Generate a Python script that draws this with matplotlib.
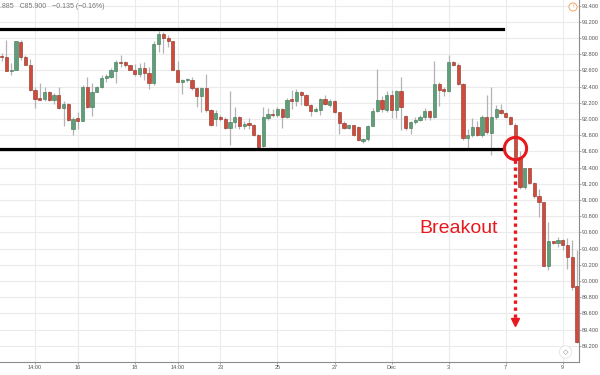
import numpy as np
import matplotlib
matplotlib.use('Agg')
import matplotlib.pyplot as plt

plt.rcParams['font.family'] = ['Liberation Sans', 'DejaVu Sans']

# OHLC values, one entry per bar (left to right)
opens = [92.78, 92.76, 92.59, 92.61, 92.95, 92.76, 92.66, 92.36, 92.26, 92.24,
         92.33, 92.23, 92.29, 92.13, 92.19, 91.88, 92.01, 91.98, 92.39, 92.15,
         92.33, 92.39, 92.50, 92.52, 92.59, 92.70, 92.70, 92.66,
         92.61, 92.55, 92.63, 92.57, 92.44, 92.93, 93.05, 93.00, 92.96, 92.61,
         92.46, 92.48, 92.48, 92.38, 92.28, 92.38, 92.11, 92.00, 92.02, 92.00,
         91.89, 91.96, 92.02, 91.91, 91.95, 91.93, 91.80,
         91.66, 92.01, 92.06, 92.05, 92.12, 92.02, 92.24, 92.22, 92.33, 92.30,
         92.17, 92.10, 92.11, 92.24, 92.17, 92.22, 92.08, 91.95, 91.89, 91.92,
         91.90, 91.73, 91.75, 91.91, 92.10, 92.23, 92.11,
         92.29, 92.11, 92.35, 92.04, 91.89, 91.96, 91.99, 92.02, 92.10, 92.02,
         92.43, 92.37, 92.34, 92.70, 92.67, 92.43, 91.77, 91.80, 91.90, 91.80,
         92.03, 91.83, 92.02, 92.11, 92.07, 92.02,
         91.925, 91.53, 91.16, 91.39, 91.21, 91.05, 90.97, 90.18, 90.49, 90.47,
         90.51, 90.44, 90.30, 89.94]
highs = [92.82, 92.98, 92.69, 92.96, 92.98, 92.79, 92.74, 92.40, 92.44, 92.39,
         92.34, 92.32, 92.39, 92.22, 92.20, 92.02, 92.09, 92.42, 92.52, 92.44,
         92.41, 92.54, 92.56, 92.63, 92.73, 92.79, 92.72, 92.67,
         92.68, 92.69, 92.70, 92.64, 92.96, 93.08, 93.07, 93.03, 92.96, 92.71,
         92.49, 92.50, 92.52, 92.40, 92.40, 92.56, 92.12, 92.11, 92.05, 92.03,
         92.34, 92.15, 92.04, 91.97, 92.01, 91.94, 91.82,
         92.15, 92.13, 92.12, 92.15, 92.13, 92.26, 92.36, 92.37, 92.35, 92.31,
         92.19, 92.15, 92.26, 92.30, 92.24, 92.23, 92.09, 91.97, 91.94, 91.93,
         91.91, 91.77, 91.93, 92.13, 92.62, 92.28, 92.34,
         92.36, 92.36, 92.52, 92.05, 91.98, 92.02, 92.05, 92.13, 92.11, 92.71,
         92.46, 92.39, 92.79, 92.72, 92.69, 92.44, 91.87, 92.01, 91.97, 92.05,
         92.30, 92.40, 92.17, 92.19, 92.09, 92.04,
         91.945, 91.60, 91.40, 91.40, 91.22, 91.13, 90.98, 90.73, 90.49, 90.54,
         90.52, 90.53, 90.50, 90.38]
lows = [92.71, 92.59, 92.54, 92.60, 92.73, 92.66, 92.35, 92.13, 92.23, 92.22,
        92.22, 92.19, 92.12, 91.91, 91.97, 91.80, 91.88, 91.98, 92.14, 92.04,
        92.33, 92.38, 92.46, 92.51, 92.44, 92.64, 92.64, 92.61,
        92.53, 92.52, 92.48, 92.37, 92.42, 92.83, 92.82, 92.89, 92.61, 92.45,
        92.31, 92.46, 92.36, 92.15, 92.08, 92.09, 91.91, 91.91, 91.97, 91.87,
        91.68, 91.89, 91.87, 91.88, 91.87, 91.79, 91.64,
        91.65, 91.99, 92.03, 92.02, 91.89, 92.01, 92.12, 92.16, 92.17, 92.16,
        92.04, 92.08, 92.05, 92.17, 92.15, 92.07, 91.82, 91.88, 91.87, 91.79,
        91.73, 91.70, 91.73, 91.91, 92.09, 92.09, 92.09,
        92.01, 92.01, 91.86, 91.86, 91.81, 91.94, 91.98, 91.99, 91.99, 92.01,
        92.16, 92.28, 92.33, 92.65, 92.42, 91.74, 91.64, 91.78, 91.79, 91.78,
        91.82, 91.55, 92.00, 92.06, 92.01, 91.93,
        91.51, 91.13, 91.13, 91.20, 91.02, 90.79, 90.18, 90.13, 90.46, 90.42,
        90.38, 90.15, 89.89, 89.24]
closes = [92.76, 92.59, 92.61, 92.96, 92.76, 92.66, 92.36, 92.25, 92.23, 92.33,
          92.23, 92.29, 92.13, 92.19, 91.99, 92.00, 91.98, 92.39, 92.15, 92.33,
          92.39, 92.50, 92.53, 92.60, 92.70, 92.69, 92.66, 92.61,
          92.55, 92.63, 92.57, 92.44, 92.93, 93.05, 93.00, 92.96, 92.61, 92.46,
          92.48, 92.49, 92.38, 92.28, 92.38, 92.11, 91.92, 92.07, 92.00, 91.89,
          91.96, 92.02, 91.91, 91.94, 91.93, 91.80, 91.65,
          92.02, 92.06, 92.05, 92.12, 92.02, 92.23, 92.22, 92.33, 92.30, 92.17,
          92.10, 92.12, 92.24, 92.19, 92.22, 92.08, 91.95, 91.89, 91.92, 91.80,
          91.74, 91.75, 91.91, 92.10, 92.23, 92.12, 92.29,
          92.11, 92.35, 92.15, 91.89, 91.96, 91.99, 92.03, 92.10, 92.02, 92.43,
          92.36, 92.34, 92.70, 92.67, 92.43, 91.77, 91.80, 91.90, 91.80, 92.03,
          91.84, 92.03, 92.12, 92.07, 92.02, 91.94,
          91.53, 91.16, 91.39, 91.21, 91.05, 90.97, 90.18, 90.49, 90.47, 90.51,
          90.44, 90.30, 89.93, 89.25]

tick_pos = [7, 16, 28, 37, 46, 58, 70, 82, 94, 106, 118]
tick_labels = ['14:00', '16', '18', '14:00', '23', '25', '27', 'Dec', '3', '7', '9']

resistance = 93.11
support = 91.63
breakout_bar = 108
breakout_price = 91.64
arrow_end = 89.49

RED = '#e8191e'
UP = '#5f9e78'
UP_EDGE = '#3d7554'
DOWN = '#cf4b3c'
DOWN_EDGE = '#8e2c22'

fig = plt.figure(figsize=(6, 3.75), dpi=100)
ax = fig.add_axes([0, 13 / 375, 579 / 600, 362 / 375])

o = np.array(opens)
h = np.array(highs)
l = np.array(lows)
c = np.array(closes)
x = np.arange(len(o))
up = c >= o

# wicks then bodies
ax.vlines(x, l, h, color='#b3b3b3', lw=0.9, zorder=2)
body_bottom = np.minimum(o, c)
body_height = np.maximum(np.abs(c - o), 0.012)
ax.bar(x[up], body_height[up], bottom=body_bottom[up], width=0.68,
       color=UP, edgecolor=UP_EDGE, linewidth=0.4, zorder=3)
ax.bar(x[~up], body_height[~up], bottom=body_bottom[~up], width=0.68,
       color=DOWN, edgecolor=DOWN_EDGE, linewidth=0.4, zorder=3)

x_left, x_right = -0.36, 121.42
ax.set_xlim(x_left, x_right)
ax.set_ylim(89.0, 93.468)

# range lines
ax.plot([x_left, 105.5], [resistance, resistance], color='black', lw=2.3, zorder=4)
ax.plot([x_left, 105.5], [support, support], color='black', lw=2.3, zorder=4)

# breakout marker and arrow
ax.plot(breakout_bar, breakout_price, 'o', ms=16, mfc='none', mec=RED, mew=2.2, zorder=5)
ax.plot([breakout_bar, breakout_bar], [91.49, arrow_end + 0.05], color=RED, lw=2.4,
        linestyle=(0, (1, 1.1)), zorder=5)
ax.plot(breakout_bar, arrow_end, marker='v', ms=6, color=RED, zorder=5)
ax.text(96, 90.65, 'Breakout', color=RED, fontsize=14,
        ha='center', va='center')

# axes styling
ax.yaxis.tick_right()
ax.set_yticks(np.arange(89.2, 93.41, 0.2))
ax.set_yticklabels(['%.3f' % v for v in np.arange(89.2, 93.41, 0.2)])
ax.set_xticks(tick_pos)
ax.set_xticklabels(tick_labels)
ax.tick_params(axis='both', labelsize=4.0, colors='#999999', labelcolor='#555555',
               length=1.2, width=0.6, pad=0.8)
ax.grid(True, color='#ebebeb', lw=0.8, zorder=0)
ax.set_axisbelow(True)
for side in ['left', 'top']:
    ax.spines[side].set_visible(False)
for side in ['right', 'bottom']:
    ax.spines[side].set_color('#8c8c8c')
    ax.spines[side].set_linewidth(0.8)

# header text and small icons
fig.text(0.0, 1 - 7 / 375, '.885   C85.900   \u22120.135 (\u22120.16%)', fontsize=5,
         color='#777777', va='center', ha='left')
fig.text(573 / 600, 1 - 7 / 375, '!', fontsize=4.5, color='#f39a4f', ha='center',
         va='center', bbox=dict(boxstyle='circle,pad=0.25', fc='white', ec='#f39a4f', lw=0.6))
fig.text(565.5 / 600, 1 - 352 / 375, '\u25c7', fontsize=5, color='#6b7a8c', ha='center',
         va='center', family='DejaVu Sans',
         bbox=dict(boxstyle='circle,pad=0.45', fc='white', ec='#e3e3e3', lw=0.6))

plt.savefig('out.png', dpi=100)
plt.close()
